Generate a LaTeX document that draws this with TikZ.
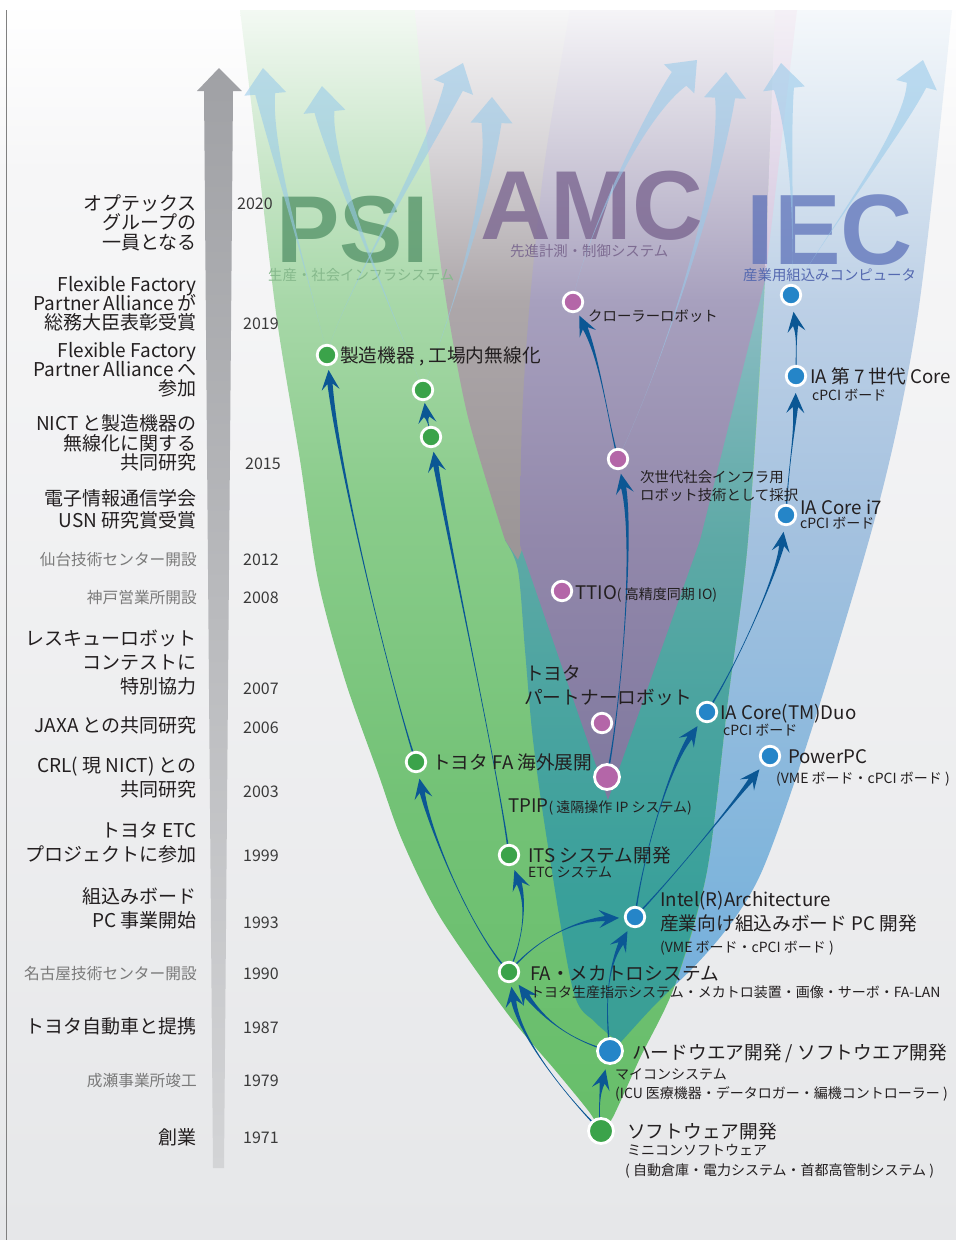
\documentclass[tikz,border=0pt]{standalone}
\usepackage{fontspec}
\setmainfont{Noto Sans CJK JP}
\newfontfamily\bigfont{Liberation Sans}
\usetikzlibrary{calc}
\pgfdeclarelayer{fg}
\pgfsetlayers{main,fg}

\definecolor{txt}{HTML}{231F20}
\definecolor{yr}{HTML}{3A3A3A}
\definecolor{gtxt}{HTML}{7A7A7A}
\definecolor{dotG}{HTML}{3BA34A}
\definecolor{dotB}{HTML}{2585C8}
\definecolor{dotP}{HTML}{B466A8}
\definecolor{link}{HTML}{0B5794}
\definecolor{rise}{HTML}{98CAEA}
\definecolor{frame}{HTML}{808080}
\definecolor{psiC}{HTML}{5E9A70}
\definecolor{amcC}{HTML}{7A6590}
\definecolor{iecC}{HTML}{5A6FB8}
\definecolor{psiS}{HTML}{86B98C}
\definecolor{amcS}{HTML}{7E6C92}
\definecolor{iecS}{HTML}{5468B0}

\definecolor{bgA}{HTML}{FFFFFF}
\definecolor{bgB}{HTML}{F6F6F7}
\definecolor{bgC}{HTML}{E6E7E9}
\pgfdeclareverticalshading{bgsh}{100bp}{color(0bp)=(bgC); color(25bp)=(bgC); color(68bp)=(bgB); color(75bp)=(bgA); color(100bp)=(bgA)}

\definecolor{g1}{HTML}{F3F9F3}
\definecolor{g2}{HTML}{CDE8CD}
\definecolor{g3}{HTML}{A8D8A9}
\definecolor{g4}{HTML}{8ACC8B}
\definecolor{g5}{HTML}{73C276}
\definecolor{g6}{HTML}{67BE6A}
\pgfdeclareverticalshading{gsh}{100bp}{color(0bp)=(g6); color(25bp)=(g6); color(39.9bp)=(g5); color(53.2bp)=(g4); color(62.1bp)=(g3); color(68.8bp)=(g2); color(75bp)=(g1); color(100bp)=(g1)}

\definecolor{p1}{HTML}{F5F4F7}
\definecolor{p2}{HTML}{D0CCDA}
\definecolor{p3}{HTML}{A7A0BE}
\definecolor{p4}{HTML}{9288AB}
\definecolor{p5}{HTML}{7F789E}
\pgfdeclareverticalshading{psh}{100bp}{color(0bp)=(p5); color(25bp)=(p5); color(41.5bp)=(p4); color(56.6bp)=(p3); color(66.1bp)=(p2); color(75bp)=(p1); color(100bp)=(p1)}

\definecolor{a1}{HTML}{F6F6F7}
\definecolor{a2}{HTML}{D7D4D7}
\definecolor{a3}{HTML}{ADA7AA}
\definecolor{a4}{HTML}{9C9697}
\definecolor{a5}{HTML}{968F91}
\pgfdeclareverticalshading{ash}{100bp}{color(0bp)=(a5); color(25bp)=(a5); color(41.5bp)=(a4); color(56.6bp)=(a3); color(66.1bp)=(a2); color(75bp)=(a1); color(100bp)=(a1)}

\definecolor{t1}{HTML}{8FBFC6}
\definecolor{t2}{HTML}{5EA9A6}
\definecolor{t3}{HTML}{4BA4A0}
\definecolor{t4}{HTML}{39A09A}
\definecolor{t5}{HTML}{3A9F95}
\pgfdeclareverticalshading{tsh}{100bp}{color(0bp)=(t5); color(25bp)=(t5); color(34.4bp)=(t4); color(47.5bp)=(t3); color(58bp)=(t2); color(75bp)=(t1); color(100bp)=(t1)}

\definecolor{b1}{HTML}{F5F8FB}
\definecolor{b2}{HTML}{DAE6F1}
\definecolor{b3}{HTML}{BDD0E6}
\definecolor{b4}{HTML}{A3C1DF}
\definecolor{b5}{HTML}{80B5DC}
\definecolor{b6}{HTML}{76B0DC}
\pgfdeclareverticalshading{bsh}{100bp}{color(0bp)=(b6); color(25bp)=(b6); color(30.9bp)=(b5); color(47.8bp)=(b4); color(60.1bp)=(b3); color(67.8bp)=(b2); color(75bp)=(b1); color(100bp)=(b1)}

\definecolor{k1}{HTML}{F4F0F6}
\definecolor{k2}{HTML}{D3C5DE}
\pgfdeclareverticalshading{pksh}{100bp}{color(0bp)=(k2); color(25bp)=(k2); color(75bp)=(k1); color(100bp)=(k1)}

\definecolor{tl1}{HTML}{A0A1A5}
\definecolor{tl2}{HTML}{D3D4D6}
\pgfdeclareverticalshading{tlsh}{100bp}{color(0bp)=(tl2); color(25bp)=(tl2); color(75bp)=(tl1); color(100bp)=(tl1)}

% light rising arrow: #1 source node, #2 #3 controls, #4 tip coordinate
\newcommand{\riseArrow}[4]{%
  \coordinate (rB) at ($(#4)!26pt!(#3)$);
  \fill[risefill] (#1.center) .. controls (#2) and (#3) .. ($(rB)!10pt!90:(#4)$)
    -- ($(rB)!21pt!90:(#4)$) -- (#4) -- ($(rB)!21pt!-90:(#4)$)
    -- ($(rB)!10pt!-90:(#4)$) .. controls (#3) and (#2) .. (#1.center) -- cycle;
}
% dark tapered connector: #1 source, #2 #3 controls, #4 target, #5 tip distance
\newcommand{\linkArrow}[5]{%
  \coordinate (lT) at ($(#4.center)!#5!(#3)$);
  \coordinate (lB) at ($(lT)!20pt!(#3)$);
  \coordinate (lN) at ($(lT)!14pt!(#3)$);
  \fill[linkfill] ($(#1.center)!0.9pt!90:(#2)$) .. controls (#2) and (#3) .. ($(lN)!2.6pt!90:(lT)$)
    -- ($(lB)!9pt!90:(lT)$) -- (lT) -- ($(lB)!9pt!-90:(lT)$)
    -- ($(lN)!2.6pt!-90:(lT)$) .. controls (#3) and (#2) .. ($(#1.center)!0.9pt!-90:(#2)$) -- cycle;
}

\begin{document}
\begin{tikzpicture}[x=1pt,y=-1pt,
  dot/.style={circle, draw=white, line width=2.8pt, inner sep=0pt, minimum size=19.5pt},
  bigdot/.style={minimum size=25pt},
  gdot/.style={dot, fill=dotG},
  bdot/.style={dot, fill=dotB},
  pdot/.style={dot, fill=dotP},
  risefill/.style={fill=rise, fill opacity=0.58},
  linkfill/.style={fill=link},
  tlab/.style={anchor=base east, inner sep=0pt, text=txt, font=\fontsize{19}{20}\selectfont},
  tlabg/.style={anchor=base east, inner sep=0pt, text=gtxt, font=\fontsize{15.7}{17}\selectfont},
  year/.style={anchor=base west, inner sep=0pt, text=yr, font=\fontsize{16}{17}\selectfont},
  lab/.style={anchor=base west, inner sep=0pt, text=txt, font=\fontsize{18.7}{20}\selectfont},
  sublab/.style={anchor=base west, inner sep=0pt, text=txt, font=\fontsize{14}{15}\selectfont},
  smlab/.style={anchor=base west, inner sep=0pt, text=txt, font=\fontsize{14.4}{15}\selectfont},
  bigword/.style={anchor=base west, inner sep=0pt, text depth=0pt, font=\bigfont\bfseries\fontsize{#1}{#1}\selectfont},
]
\useasboundingbox (0,0) rectangle (956,1240);

% background and frame line
\shade[shading=bgsh] (0,0) rectangle (956,1240);
\draw[frame, line width=1pt] (6,10) -- (6,1240);

% timeline arrow
\shade[shading=tlsh] (219,68) -- (242,91) -- (233,91) -- (224,1168) -- (213,1168) -- (204,91) -- (197,91) -- cycle;

% IEC light blue region
\shade[shading=bsh] plot[smooth] coordinates {(675,985) (762,871) (869,540) (917,320) (952,10)}
  -- (775,10) -- (765,280) -- plot[smooth] coordinates {(748,540) (728,700) (707,871) (675,985)} -- cycle;
% PSI green funnel
\shade[shading=gsh] plot[smooth] coordinates {(240,10) (258,160) (277,320) (300,460) (318,580) (345,680) (378,773) (402,840) (440,917) (507,1013) (555,1070) (590,1113) (601,1133)}
  -- plot[smooth] coordinates {(601,1133) (613,1117) (640,1058) (675,985) (707,871) (728,700) (748,540) (765,280) (775,10)} -- cycle;
% AMC grey region
\shade[shading=ash] plot[smooth] coordinates {(415,10) (428,150) (443,280) (467,413) (505,540)}
  -- (520,565) -- (608,800) -- (700,540) -- (765,280) -- (775,10) -- cycle;
% teal overlap
\shade[shading=tsh] plot[smooth] coordinates {(505,540) (518,570) (525,650) (533,740) (547,840) (573,990) (595,1022) (620,1043)}
  -- plot[smooth] coordinates {(620,1043) (650,1010) (675,985)}
  -- plot[smooth] coordinates {(675,985) (707,871) (728,700) (748,540) (765,280)} -- (620,300) -- (518,560) -- cycle;
% AMC purple V
\shade[shading=psh] plot[smooth] coordinates {(570,10) (545,160) (530,300) (522,420) (520,545)}
  -- (608,800) -- (700,540) -- (765,280) -- (775,10) -- cycle;
% pink strip
\shade[shading=pksh] (765,280) -- (775,10) -- (797,10) -- cycle;

% big words
\node[bigword=95, text=psiC, text opacity=0.85] (psiW) at (276,262) {PSI};
\node[bigword=98, text=amcC, text opacity=0.78] (amcW) at (480,239) {AMC};
\node[bigword=100, text=iecC, text opacity=0.72] (iecW) at (746,264) {IEC};
\node[smlab, text=psiS] (psiSub) at (268,280) {生産・社会インフラシステム};
\node[smlab, text=amcS] (amcSub) at (510,256) {先進計測・制御システム};
\node[smlab, text=iecS] (iecSub) at (743,280) {産業用組込みコンピュータ};

% nodes (drawn on the foreground layer)
\begin{pgfonlayer}{fg}
\node[gdot] (psiA) at (327,355) {};
\node[gdot] (psiB) at (423,390) {};
\node[gdot] (psiB2) at (431,437) {};
\node[gdot] (faov) at (416,762) {};
\node[gdot] (its) at (509,855) {};
\node[gdot] (fa) at (509,972) {};
\node[gdot,bigdot] (sw) at (601,1131) {};
\node[bdot,bigdot] (hw) at (610,1051) {};
\node[bdot] (intel) at (635,917) {};
\node[bdot] (ppc) at (770,756) {};
\node[bdot] (duo) at (707,712) {};
\node[bdot] (i7) at (786,515) {};
\node[bdot] (ia7) at (796,376) {};
\node[bdot] (iectop) at (791,295) {};
\node[pdot] (crawl) at (573,302) {};
\node[pdot] (jisedai) at (618,459) {};
\node[pdot] (ttio) at (562,591) {};
\node[pdot] (partner) at (602,723) {};
\node[pdot,bigdot] (tpip) at (607,777) {};
\end{pgfonlayer}

% light rising arrows
\coordinate (r1) at (263,68);
\coordinate (r2) at (322,86);
\coordinate (r3) at (463,63);
\coordinate (r4) at (492,97);
\coordinate (r5) at (697,60);
\coordinate (r6) at (726,72);
\coordinate (r7) at (781,63);
\coordinate (r8) at (923,60);
\riseArrow{psiA}{315,300}{270,150}{r1}
\riseArrow{psiB}{405,340}{330,170}{r2}
\riseArrow{psiA}{340,300}{425,160}{r3}
\riseArrow{psiB}{445,330}{490,200}{r4}
\riseArrow{crawl}{580,250}{640,120}{r5}
\riseArrow{jisedai}{665,360}{722,180}{r6}
\riseArrow{iectop}{795,230}{790,140}{r7}
\riseArrow{iectop}{815,250}{905,130}{r8}

% dark connectors
\linkArrow{sw}{598,1112}{600,1092}{hw}{19pt}
\linkArrow{sw}{570,1100}{520,1040}{fa}{15pt}
\linkArrow{hw}{570,1040}{545,1020}{fa}{16pt}
\linkArrow{fa}{523,940}{527,905}{its}{16pt}
\linkArrow{fa}{540,935}{580,920}{intel}{16pt}
\linkArrow{hw}{603,990}{612,960}{intel}{16pt}
\linkArrow{its}{500,780}{452,560}{psiB2}{15pt}
\linkArrow{psiB2}{429,425}{427,420}{psiB}{13pt}
\linkArrow{faov}{395,700}{340,480}{psiA}{15pt}
\linkArrow{fa}{470,930}{430,830}{faov}{17pt}
\linkArrow{tpip}{622,700}{634,540}{jisedai}{15pt}
\linkArrow{jisedai}{608,420}{600,360}{crawl}{15pt}
\linkArrow{intel}{642,860}{668,770}{duo}{17pt}
\linkArrow{intel}{680,870}{735,800}{ppc}{17pt}
\linkArrow{duo}{740,660}{778,570}{i7}{17pt}
\linkArrow{i7}{788,470}{795,430}{ia7}{17pt}
\linkArrow{ia7}{796,350}{797,335}{iectop}{17pt}

\begin{pgfonlayer}{fg}
% timeline labels
\node[tlab] (l1a) at (197,210) {オプテックス};
\node[tlab] (l1b) at (197,229) {グループの};
\node[tlab] (l1c) at (197,249) {一員となる};
\node[tlab] (l2a) at (197,291) {Flexible Factory};
\node[tlab] (l2b) at (197,310) {Partner Alliance が};
\node[tlab] (l2c) at (197,329) {総務大臣表彰受賞};
\node[tlab] (l3a) at (197,357) {Flexible Factory};
\node[tlab] (l3b) at (197,376) {Partner Alliance へ};
\node[tlab] (l3c) at (197,395) {参加};
\node[tlab] (l4a) at (197,430) {NICT と製造機器の};
\node[tlab] (l4b) at (197,450) {無線化に関する};
\node[tlab] (l4c) at (197,469) {共同研究};
\node[tlab] (l5a) at (197,505) {電子情報通信学会};
\node[tlab] (l5b) at (197,527) {USN 研究賞受賞};
\node[tlabg] (l6) at (197,565) {仙台技術センター開設};
\node[tlabg] (l7) at (197,603) {神戸営業所開設};
\node[tlab] (l8a) at (197,645) {レスキューロボット};
\node[tlab] (l8b) at (197,669) {コンテストに};
\node[tlab] (l8c) at (197,693) {特別協力};
\node[tlab] (l9) at (197,732) {JAXA との共同研究};
\node[tlab] (l10a) at (197,772) {CRL( 現 NICT) との};
\node[tlab] (l10b) at (197,796) {共同研究};
\node[tlab] (l11a) at (197,837) {トヨタ ETC};
\node[tlab] (l11b) at (197,861) {プロジェクトに参加};
\node[tlab] (l12a) at (197,903) {組込みボード};
\node[tlab] (l12b) at (197,927) {PC 事業開始};
\node[tlabg] (l13) at (197,979) {名古屋技術センター開設};
\node[tlab] (l14) at (197,1033) {トヨタ自動車と提携};
\node[tlabg] (l15) at (197,1086) {成瀬事業所竣工};
\node[tlab] (l16) at (197,1144) {創業};
% years
\node[year] (y2020) at (237,209) {2020};
\node[year] (y2019) at (243,329) {2019};
\node[year] (y2015) at (245,469) {2015};
\node[year] (y2012) at (243,565) {2012};
\node[year] (y2008) at (243,603) {2008};
\node[year] (y2007) at (243,694) {2007};
\node[year] (y2006) at (243,733) {2006};
\node[year] (y2003) at (243,797) {2003};
\node[year] (y1999) at (243,861) {1999};
\node[year] (y1993) at (243,928) {1993};
\node[year] (y1990) at (243,979) {1990};
\node[year] (y1987) at (243,1033) {1987};
\node[year] (y1979) at (243,1086) {1979};
\node[year] (y1971) at (243,1143) {1971};

% node labels
\node[lab] (tA) at (340,362) {製造機器 , 工場内無線化};
\node[smlab] (tCrawl) at (588,321) {クローラーロボット};
\node[smlab] (tJis1) at (640,482) {次世代社会インフラ用};
\node[smlab] (tJis2) at (640,500) {ロボット技術として採択};
\node[lab] (tIa7) at (810,383) {IA 第 7 世代 Core};
\node[sublab] (tIa7s) at (812,400) {cPCI ボード};
\node[lab] (tI7) at (800,514) {IA Core i7};
\node[sublab] (tI7s) at (800,528) {cPCI ボード};
\node[lab] (tTtio) at (575,599) {TTIO{\fontsize{14}{15}\selectfont ( 高精度同期 IO)}};
\node[lab] (tPar1) at (525,680) {トヨタ};
\node[lab] (tPar2) at (524,704) {パートナーロボット};
\node[lab] (tDuo) at (720,719) {IA Core(TM)Duo};
\node[sublab] (tDuos) at (723,735) {cPCI ボード};
\node[lab] (tPpc) at (788,763) {PowerPC};
\node[sublab] (tPpcs) at (776,783) {(VME ボード・cPCI ボード )};
\node[lab] (tFaov) at (432,769) {トヨタ FA 海外展開};
\node[lab] (tTpip) at (508,812) {TPIP{\fontsize{14}{15}\selectfont ( 遠隔操作 IP システム)}};
\node[lab] (tIts) at (528,862) {ITS システム開発};
\node[sublab] (tItss) at (528,877) {ETC システム};
\node[lab] (tInt1) at (660,906) {Intel(R)Architecture};
\node[lab] (tInt2) at (660,930) {産業向け組込みボード PC 開発};
\node[sublab] (tInt3) at (660,952) {(VME ボード・cPCI ボード )};
\node[lab] (tFa) at (530,980) {FA・メカトロシステム};
\node[sublab] (tFas) at (530,997) {トヨタ生産指示システム・メカトロ装置・画像・サーボ・FA-LAN};
\node[lab] (tHw) at (632,1059) {ハードウエア開発 / ソフトウエア開発};
\node[sublab] (tHw2) at (615,1079) {マイコンシステム};
\node[sublab] (tHw3) at (615,1098) {(ICU 医療機器・データロガー・編機コントローラー )};
\node[lab] (tSw) at (627,1138) {ソフトウェア開発};
\node[sublab] (tSw2) at (627,1155) {ミニコンソフトウェア};
\node[sublab] (tSw3) at (625,1175) {( 自動倉庫・電力システム・首都高管制システム )};
\end{pgfonlayer}
\end{tikzpicture}
\end{document}
